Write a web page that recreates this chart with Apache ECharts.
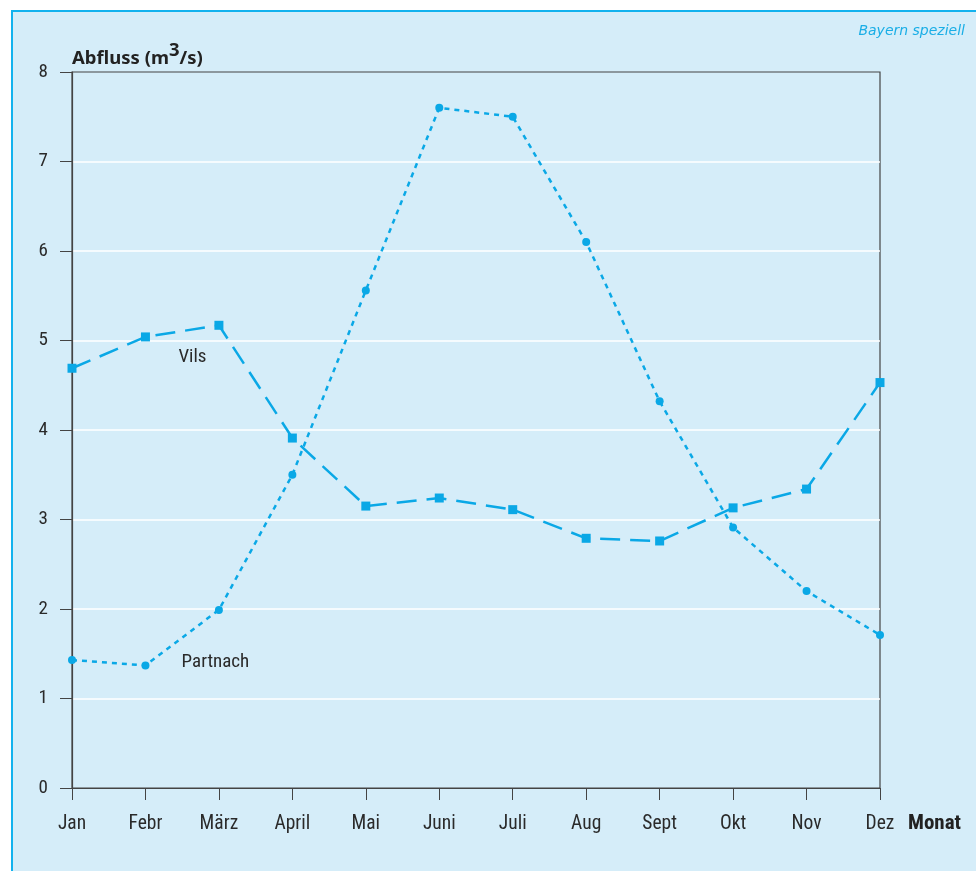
<!DOCTYPE html>
<html>
<head>
<meta charset="utf-8">
<script src="https://cdn.jsdelivr.net/npm/echarts@6/dist/echarts.min.js"></script>
<style>
  html, body { margin: 0; padding: 0; background: #fff; }
  #chart { width: 976px; height: 871px; }
</style>
</head>
<body>
<div id="chart"></div>
<script>
// Monate und Abfluss (m3/s)
var months = ['Jan', 'Febr', 'März', 'April', 'Mai', 'Juni', 'Juli', 'Aug', 'Sept', 'Okt', 'Nov', 'Dez'];
var vils = [4.69, 5.04, 5.17, 3.91, 3.15, 3.24, 3.11, 2.79, 2.76, 3.13, 3.34, 4.53];
var partnach = [1.43, 1.37, 1.99, 3.50, 5.56, 7.60, 7.50, 6.10, 4.32, 2.91, 2.20, 1.71];
var yTicks = [0, 1, 2, 3, 4, 5, 6, 7, 8];

var blue = '#0aa8e6';
var fontNarrow = '"Roboto Condensed", "Noto Sans", sans-serif';

var myChart = echarts.init(document.getElementById('chart'));

// Name nur am Febr-Punkt anzeigen
function withLabel(values, name, offset) {
    return values.map(function (v, i) {
        if (i !== 1) return v;
        return {
            value: v,
            label: {
                show: true,
                formatter: name,
                position: 'inside',
                offset: offset,
                color: '#2a2a2a',
                fontSize: 19,
                fontFamily: fontNarrow
            }
        };
    });
}

var option = {
    backgroundColor: '#fff',
    animation: false,
    graphic: [{
        type: 'rect',
        z: -10,
        shape: { x: 12, y: 11, width: 1000, height: 900 },
        style: { fill: '#d5edf9', stroke: '#12b2ee', lineWidth: 2 }
    }, {
        type: 'text',
        left: 908,
        top: 813,
        style: { text: 'Monat', fontSize: 21, fontWeight: 'bold', fill: '#222', fontFamily: fontNarrow }
    }, {
        type: 'text',
        right: 11,
        top: 24,
        style: { text: 'Bayern speziell', fontSize: 14, fontStyle: 'italic', fill: '#1aaee6', fontFamily: '"DejaVu Sans", sans-serif' }
    }],
    grid: {
        left: 72, right: 96, top: 72, bottom: 83,
        show: true,
        borderColor: '#444',
        borderWidth: 1.2,
        backgroundColor: 'transparent'
    },
    xAxis: {
        type: 'category',
        data: months,
        boundaryGap: false,
        axisLine: { lineStyle: { color: '#444', width: 1.2 } },
        axisTick: { show: true, length: 12, alignWithLabel: true, lineStyle: { color: '#444' } },
        axisLabel: { color: '#2a2a2a', fontSize: 19.5, margin: 26, fontFamily: fontNarrow },
        splitLine: { show: false }
    },
    yAxis: {
        type: 'value',
        min: yTicks[0],
        max: yTicks[yTicks.length - 1],
        interval: 1,
        name: '{b|Abfluss (m}{s|3}{b|/s)}',
        nameLocation: 'end',
        nameGap: 4,
        nameTextStyle: {
            align: 'left',
            verticalAlign: 'bottom',
            rich: {
                b: { fontSize: 18.5, fontWeight: 'bold', color: '#222', fontFamily: '"Noto Sans", sans-serif', verticalAlign: 'bottom' },
                s: { fontSize: 18.5, fontWeight: 'bold', color: '#222', fontFamily: '"Noto Sans", sans-serif', verticalAlign: 'bottom', padding: [0, 0, 8, 0] }
            }
        },
        axisLine: { show: true, lineStyle: { color: '#444', width: 1.2 } },
        axisTick: { show: true, length: 12, lineStyle: { color: '#444' } },
        axisLabel: { color: '#2a2a2a', fontSize: 19, margin: 24, fontFamily: fontNarrow },
        splitLine: { show: true, showMinLine: false, showMaxLine: false, lineStyle: { color: '#ffffff', width: 1.5 } }
    },
    series: [{
        name: 'Vils',
        type: 'line',
        data: withLabel(vils, 'Vils', [47, 20]),
        symbol: 'rect',
        symbolSize: 9,
        itemStyle: { color: blue },
        lineStyle: { color: blue, width: 2.5, type: [20, 10] }
    }, {
        name: 'Partnach',
        type: 'line',
        data: withLabel(partnach, 'Partnach', [70, -3]),
        symbol: 'circle',
        symbolSize: 8,
        itemStyle: { color: blue },
        lineStyle: { color: blue, width: 2.5, type: [5, 5] }
    }]
};

myChart.setOption(option);
</script>
</body>
</html>
